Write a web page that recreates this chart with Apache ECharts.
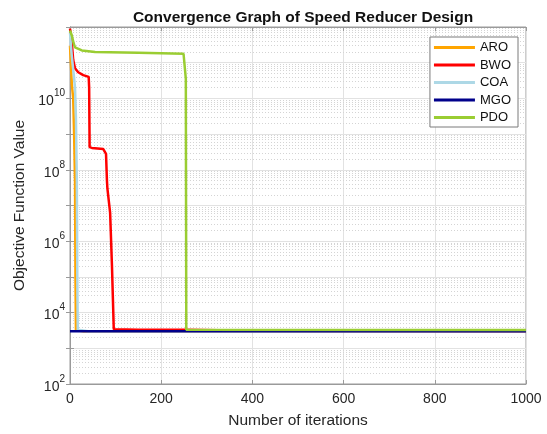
<!DOCTYPE html>
<html>
<head>
<meta charset="utf-8">
<title>Convergence Graph of Speed Reducer Design</title>
<script src="https://cdn.jsdelivr.net/npm/echarts@6/dist/echarts.min.js"></script>
<style>
  html, body { margin: 0; padding: 0; background: #fff; }
  #chart { width: 547px; height: 434px; }
</style>
</head>
<body>
<div id="chart"></div>
<script>
/* Convergence curves, each point is [iteration, objective value] */
const seriesNames = ['ARO', 'BWO', 'COA', 'MGO', 'PDO']
const seriesColors = ['#FFA500', '#FF0000', '#ADD8E6', '#00008B', '#9ACD32']

const aroCurve = [
  [0, 3e11], [2, 9e10], [4, 2.5e10], [7, 1e10], [9, 1e9], [11, 5e7],
  [12, 1e5], [13, 3200], [30, 3010], [1000, 2994.5]
]
const bwoCurve = [
  [0, 9e11], [3, 5e11], [7, 1.2e11], [11, 7e10], [18, 5.4e10], [29, 4.5e10],
  [41, 4e10], [42, 2e10], [43, 4.3e8], [48, 4.1e8], [73, 3.8e8], [79, 2.8e8],
  [81, 5e7], [82, 3e7], [86, 2.7e7], [88, 6.2e6], [90, 5.5e6], [92, 2.1e5],
  [94, 1.9e5], [96, 3400], [150, 3330], [250, 3300], [400, 3100], [1000, 3000]
]
const coaCurve = [
  [0, 7e11], [2, 3e11], [4, 1.5e11], [8, 5e10], [11, 2e10], [13, 3e9],
  [15, 5e7], [16, 1e5], [17, 3300], [40, 3005], [1000, 2994.5]
]
const mgoCurve = [
  [0, 2996], [1000, 2994.4]
]
const pdoCurve = [
  [0, 8e11], [4, 5.8e11], [8, 3.5e11], [11, 2.7e11], [26, 2.2e11], [55, 2e11],
  [150, 1.9e11], [249, 1.78e11], [254, 3.5e10], [255, 3300], [1000, 3250]
]
const curves = [aroCurve, bwoCurve, coaCurve, mgoCurve, pdoCurve]

/* axis ranges */
const xMin = 0
const xMax = 1000
const xStep = 200
const yMin = 1e2
const yMax = 1e12

/* dotted minor grid lines of the log axis: 2..9 x 10^n */
const minorGridValues = []
for (let e = 2; e < 12; e++) {
  for (let m = 2; m <= 9; m++) {
    minorGridValues.push(m * Math.pow(10, e))
  }
}

const fontFamily = "'Liberation Sans', Arial, Helvetica, sans-serif"
const textColor = '#262626'
const boxColor = '#9a9a9a'

const chart = echarts.init(document.getElementById('chart'))

const series = [
  {
    name: 'minorGrid',
    type: 'line',
    data: [],
    silent: true,
    z: 0,
    markLine: {
      silent: true,
      symbol: 'none',
      animation: false,
      z: 0,
      label: { show: false },
      lineStyle: { color: '#d4d4d4', type: [1, 2], width: 1 },
      emphasis: { disabled: true },
      data: minorGridValues.map(v => ({ yAxis: v }))
    }
  }
]
seriesNames.forEach((name, i) => {
  series.push({
    name: name,
    type: 'line',
    data: curves[i],
    showSymbol: false,
    symbol: 'none',
    z: 10 + i,
    color: seriesColors[i],
    lineStyle: { width: 2.5, color: seriesColors[i], type: 'solid' },
    emphasis: { disabled: true }
  })
})

chart.setOption({
  animation: false,
  aria: { enabled: false, decal: { show: false } },
  textStyle: { fontFamily: fontFamily },
  title: {
    text: 'Convergence Graph of Speed Reducer Design',
    left: 298,
    top: 5,
    textAlign: 'center',
    textStyle: { fontSize: 15.5, fontWeight: 'bold', color: '#111', fontFamily: fontFamily }
  },
  legend: {
    data: seriesNames,
    orient: 'vertical',
    right: 29,
    top: 37,
    icon: 'rect',
    itemWidth: 41,
    itemHeight: 3,
    itemGap: 4.5,
    padding: [4, 7, 3, 4],
    backgroundColor: '#fff',
    borderColor: '#7a7a7a',
    borderWidth: 1,
    borderRadius: 0,
    textStyle: { fontSize: 13, color: '#111', fontFamily: fontFamily }
  },
  grid: {
    left: 70,
    right: 21,
    top: 27,
    bottom: 47,
    show: true,
    borderColor: boxColor,
    borderWidth: 1,
    backgroundColor: '#fff'
  },
  xAxis: [
    {
      type: 'value',
      min: xMin,
      max: xMax,
      interval: xStep,
      name: 'Number of iterations',
      nameLocation: 'middle',
      nameGap: 29,
      nameTextStyle: { fontSize: 15.5, color: textColor },
      axisLine: { show: true, lineStyle: { color: boxColor } },
      axisTick: { show: true, inside: true, length: 4, lineStyle: { color: boxColor } },
      axisLabel: { fontSize: 14, color: textColor, margin: 8, formatter: v => String(v) },
      splitLine: { show: true, lineStyle: { color: '#e2e2e2', width: 1 } }
    },
    {
      type: 'value',
      position: 'top',
      min: xMin,
      max: xMax,
      interval: xStep,
      axisLine: { show: true, lineStyle: { color: boxColor } },
      axisTick: { show: true, inside: true, length: 4, lineStyle: { color: boxColor } },
      axisLabel: { show: false },
      splitLine: { show: false }
    }
  ],
  yAxis: [
    {
      type: 'log',
      logBase: 10,
      min: yMin,
      max: yMax,
      interval: 1,
      name: 'Objective Function Value',
      nameLocation: 'middle',
      nameGap: 40,
      nameTextStyle: { fontSize: 15.5, color: textColor },
      axisLine: { show: true, lineStyle: { color: boxColor } },
      axisTick: { show: true, inside: true, length: 4, lineStyle: { color: boxColor } },
      axisLabel: {
        margin: 5,
        formatter: function (value) {
          const e = Math.round(Math.log10(value))
          if (e % 2 !== 0 || e >= 12) return ''
          return '{b|10}{s|' + e + '}'
        },
        rich: {
          b: { fontSize: 14, color: textColor, padding: [6, 0, 0, 0], verticalAlign: 'bottom', fontFamily: fontFamily },
          s: { fontSize: 10, color: textColor, verticalAlign: 'top', fontFamily: fontFamily }
        }
      },
      splitLine: { show: true, lineStyle: { color: '#e2e2e2', width: 1 } }
    },
    {
      type: 'log',
      logBase: 10,
      min: yMin,
      max: yMax,
      interval: 1,
      position: 'right',
      axisLine: { show: true, lineStyle: { color: boxColor } },
      axisTick: { show: true, inside: true, length: 4, lineStyle: { color: boxColor } },
      axisLabel: { show: false },
      splitLine: { show: false }
    }
  ],
  series: series
})
</script>
</body>
</html>
